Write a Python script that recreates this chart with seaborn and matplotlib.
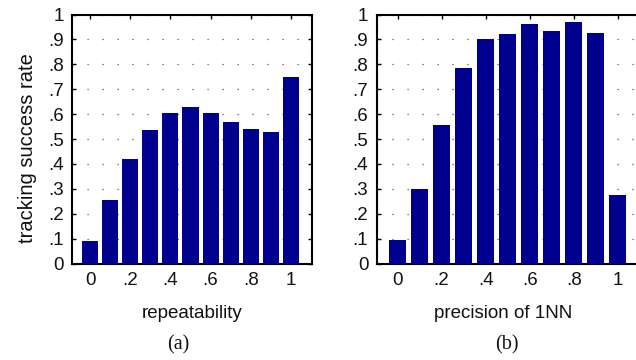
import matplotlib
matplotlib.use("Agg")
import matplotlib.pyplot as plt
import seaborn as sns
import numpy as np
import pandas as pd

# data
bin_centers = [0.0, 0.1, 0.2, 0.3, 0.4, 0.5, 0.6, 0.7, 0.8, 0.9, 1.0]
rate_repeatability = [0.092, 0.255, 0.420, 0.536, 0.603, 0.628, 0.603, 0.567, 0.540, 0.527, 0.749]
rate_precision = [0.095, 0.298, 0.555, 0.784, 0.901, 0.921, 0.961, 0.933, 0.969, 0.925, 0.274]
xtick_vals = [0, 0.2, 0.4, 0.6, 0.8, 1.0]
xtick_labels = ["0", ".2", ".4", ".6", ".8", "1"]
ytick_vals = [0, 0.1, 0.2, 0.3, 0.4, 0.5, 0.6, 0.7, 0.8, 0.9, 1.0]
ytick_labels = ["0", ".1", ".2", ".3", ".4", ".5", ".6", ".7", ".8", ".9", "1"]
xlabels = ["repeatability", "precision of 1NN"]
captions = ["(a)", "(b)"]
ylabel = "tracking success rate"

sns.set_theme(style="white")
plt.rcParams["font.family"] = ["Liberation Sans", "DejaVu Sans"]

W, H = 636, 360
fig = plt.figure(figsize=(W / 100, H / 100), dpi=100)
bottom = (H - 263.5) / H
height = 249 / H
ax1 = fig.add_axes([72 / W, bottom, 240 / W, height])
ax2 = fig.add_axes([376.7 / W, bottom, 263 / W, height])

bar_color = "#00008F"
fs = 13.5
panels = [(ax1, rate_repeatability, (-0.09, 1.105), 0.5),
          (ax2, rate_precision, (-0.095, 1.1), 0.48)]

for i, (ax, vals, xl, xlab_pos) in enumerate(panels):
    df = pd.DataFrame({"x": bin_centers, "y": vals})
    sns.barplot(data=df, x="x", y="y", native_scale=True, width=0.8,
                color=bar_color, saturation=1, edgecolor="none", ax=ax, zorder=3)
    ax.set_xlim(*xl)
    ax.set_ylim(0, 1)
    ax.set_xticks(xtick_vals)
    ax.set_xticklabels(xtick_labels)
    ax.set_yticks(ytick_vals)
    ax.set_yticklabels(ytick_labels)
    ax.tick_params(direction="in", length=3, width=1, color="black",
                   top=True, right=True, bottom=True, left=True,
                   labelsize=fs, labelcolor="#111111", pad=6)
    ax.yaxis.grid(True, color="#555555", linewidth=0.9, linestyle=(0, (1, 11)), zorder=0)
    ax.xaxis.grid(False)
    ax.set_axisbelow(True)
    for s in ax.spines.values():
        s.set_visible(True)
        s.set_color("black")
        s.set_linewidth(1.5)
    ax.set_xlabel(xlabels[i], fontsize=fs, color="#111111", labelpad=9)
    ax.xaxis.set_label_coords(xlab_pos, -0.165)
    ax.set_ylabel("")
    ax.set_facecolor("white")

ax1.set_ylabel(ylabel, fontsize=14.5, color="#111111")
ax1.yaxis.set_label_coords(-0.145, 0.464)

fig.text(178 / W, 15 / H, captions[0], ha="center", va="center",
         fontsize=14.5, family=["Liberation Serif", "DejaVu Serif"], color="#111111")
fig.text(507 / W, 15 / H, captions[1], ha="center", va="center",
         fontsize=14.5, family=["Liberation Serif", "DejaVu Serif"], color="#111111")

fig.savefig("out.png", dpi=100, facecolor="white")
